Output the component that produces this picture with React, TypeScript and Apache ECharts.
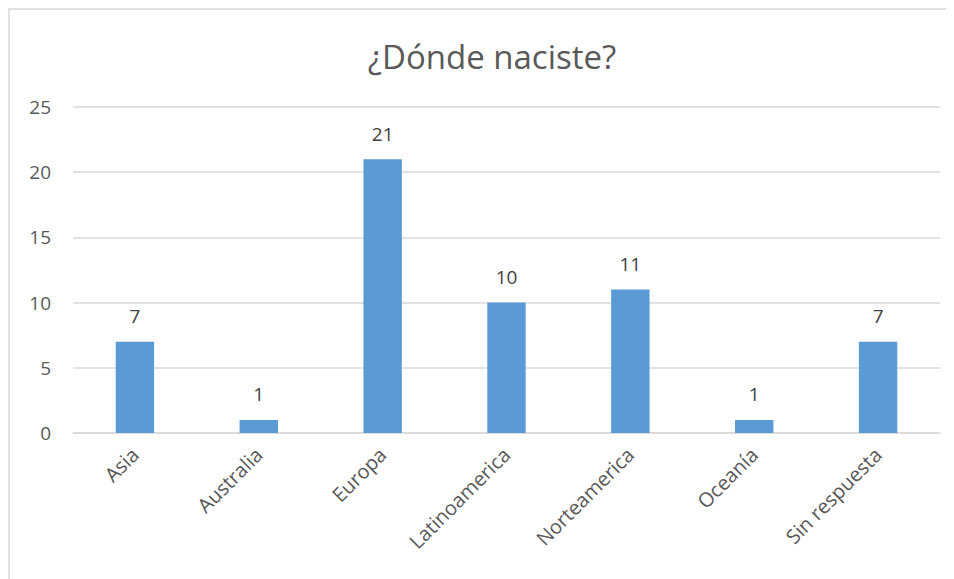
import React, { useEffect, useRef } from "react";
import * as echarts from "echarts";

const categories = ["Asia", "Australia", "Europa", "Latinoamerica", "Norteamerica", "Oceanía", "Sin respuesta"];
const values = [7, 1, 21, 10, 11, 1, 7];
const titleText = "¿Dónde naciste?";

export default function App() {
  const ref = useRef<HTMLDivElement>(null);
  useEffect(() => {
    if (!ref.current) return;
    const chart = echarts.init(ref.current, null, { renderer: "svg" });
    const font = "'Open Sans', 'Noto Sans', sans-serif";
    chart.setOption({
      animation: false,
      backgroundColor: "#ffffff",
      title: {
        text: titleText,
        left: 479,
        top: 27,
        textAlign: "center",
        textStyle: { fontFamily: font, fontSize: 33, fontWeight: "normal", color: "#595959" },
      },
      graphic: [
        {
          type: "rect",
          shape: { x: 1, y: 1, width: 2000, height: 2000 },
          style: { fill: "none", stroke: "#d9d9d9", lineWidth: 1.5 },
          silent: true,
          z: -1,
        },
      ],
      grid: { left: 65, right: 14, top: 99, bottom: 146, containLabel: false },
      xAxis: {
        type: "category",
        data: categories,
        axisLine: { show: true, lineStyle: { color: "#d9d9d9", width: 1.5 } },
        axisTick: { show: false },
        axisLabel: {
          rotate: 45,
          interval: 0,
          margin: 18,
          fontFamily: font,
          fontSize: 20,
          color: "#595959",
        },
      },
      yAxis: {
        type: "value",
        min: 0,
        max: 25,
        interval: 5,
        axisLine: { show: false },
        axisTick: { show: false },
        splitLine: { lineStyle: { color: "#d9d9d9", width: 1.5 } },
        axisLabel: { margin: 22, fontFamily: font, fontSize: 19, color: "#595959" },
      },
      series: [
        {
          type: "bar",
          data: values,
          barWidth: "31%",
          itemStyle: { color: "#5b9bd5" },
          label: {
            show: true,
            position: "top",
            distance: 16,
            fontFamily: font,
            fontSize: 19,
            color: "#404040",
          },
        },
      ],
    });
    return () => chart.dispose();
  }, []);
  return <div ref={ref} style={{ width: 946, height: 571 }} />;
}
